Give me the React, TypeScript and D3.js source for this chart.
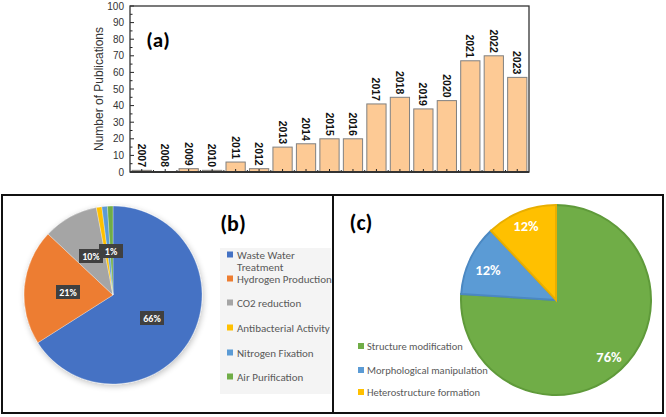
import React from "react";
import * as d3 from "d3";

const years = ["2007","2008","2009","2010","2011","2012","2013","2014","2015","2016","2017","2018","2019","2020","2021","2022","2023"];
const publications = [1, 0, 2, 1, 6, 2, 15, 17, 20, 20, 41, 45, 38, 43, 67, 70, 57];
const yTicks = [0, 10, 20, 30, 40, 50, 60, 70, 80, 90, 100];

const appLabels = ["Waste Water Treatment", "Hydrogen Production", "CO2 reduction", "Antibacterial Activity", "Nitrogen Fixation", "Air Purification"];
const appValues = [66, 21, 10, 1, 1, 1];
const appColors = ["#4472c4", "#ed7d31", "#a5a5a5", "#ffc000", "#5b9bd5", "#70ad47"];
const appShown = ["66%", "21%", "10%", "", "1%", ""];

const strLabels = ["Structure modification", "Morphological manipulation", "Heterostructure formation"];
const strValues = [76, 12, 12];
const strColors = ["#70ad47", "#5b9bd5", "#ffc000"];
const strStroke = ["#5f9a3a", "#4b88c2", "#e8ae00"];

export default function App() {
  const W = 666, H = 417;
  // bar chart
  const left = 130, right = 529, top = 6, bottom = 172;
  const x = d3.scaleBand<string>().domain(years).range([left, right]).paddingInner(0.18).paddingOuter(0.09);
  const y = d3.scaleLinear().domain([0, 100]).range([bottom, top]);
  const minor = d3.range(5, 100, 10);

  // pie b
  const pieB = d3.pie<number>().sort(null).value(d => d)(appValues);
  const rB = 89;
  const arcB = d3.arc<d3.PieArcDatum<number>>().innerRadius(0).outerRadius(rB);
  const cxB = 113, cyB = 295;
  const labelPosB: [number, number][] = [[152, 318], [68, 292], [91, 256], [0, 0], [111, 251], [0, 0]];

  // pie c
  const pieC = d3.pie<number>().sort(null).value(d => d)(strValues);
  const rC = 95;
  const arcC = d3.arc<d3.PieArcDatum<number>>().innerRadius(0).outerRadius(rC);
  const cxC = 556, cyC = 300;
  const labelPosC: [number, number][] = [[609, 357], [488, 270], [526, 226]];

  const font = "Arial, 'Liberation Sans', sans-serif";
  const fontC = "Calibri, Carlito, 'Open Sans', 'Noto Sans', sans-serif";

  return (
    <svg width={W} height={H} style={{ position: "absolute", left: 0, top: 0, background: "#fff" }} viewBox={`0 0 ${W} ${H}`}>
      <defs>
        <filter id="sh" x="-20%" y="-20%" width="140%" height="140%">
          <feGaussianBlur in="SourceAlpha" stdDeviation="3" />
          <feOffset dx="1" dy="2" result="b" />
          <feComponentTransfer><feFuncA type="linear" slope="0.25" /></feComponentTransfer>
          <feMerge><feMergeNode /><feMergeNode in="SourceGraphic" /></feMerge>
        </filter>
      </defs>
      <rect x={0} y={0} width={W} height={H} fill="#fff" />
      {/* Bar chart */}
      {years.map((yr, i) => {
        const bx = x(yr)!;
        const v = publications[i];
        return (
          <g key={yr}>
            {v > 0 && (
              <rect x={bx} y={y(v)} width={x.bandwidth()} height={bottom - y(v)} fill="#fdca95" stroke="#808080" strokeWidth={1} />
            )}
            <text transform={`translate(${bx + x.bandwidth() / 2 - 4},${Math.min(y(v), bottom - 2) - 3}) rotate(90)`} textAnchor="end" fontFamily={font} fontWeight="bold" fontSize={10.5} fill="#111">{yr}</text>
          </g>
        );
      })}
      {/* ticks */}
      {yTicks.map(t => (
        <g key={t}>
          <line x1={left} x2={left + 4} y1={y(t)} y2={y(t)} stroke="#222" strokeWidth={1} />
          <text x={left - 6} y={y(t) + 3.5} textAnchor="end" fontFamily={font} fontSize={10} fill="#333">{t}</text>
        </g>
      ))}
      {minor.map(t => (
        <line key={"m" + t} x1={left} x2={left + 2.5} y1={y(t)} y2={y(t)} stroke="#222" strokeWidth={1} />
      ))}
      {years.map(yr => (
        <line key={"xt" + yr} x1={x(yr)! + x.bandwidth() / 2} x2={x(yr)! + x.bandwidth() / 2} y1={bottom} y2={bottom - 3} stroke="#222" strokeWidth={1} />
      ))}
      {years.slice(1).map(yr => (
        <line key={"xb" + yr} x1={x(yr)! - x.step() * 0.09} x2={x(yr)! - x.step() * 0.09} y1={bottom} y2={bottom - 2} stroke="#222" strokeWidth={1} />
      ))}
      <rect x={left} y={top} width={right - left} height={bottom - top} fill="none" stroke="#333" strokeWidth={1.3} />
      <line x1={left} x2={right} y1={bottom} y2={bottom} stroke="#333" strokeWidth={1.8} />
      <text transform={`translate(${103},${(top + bottom) / 2}) rotate(-90)`} textAnchor="middle" fontFamily={font} fontSize={12} fill="#333">Number of Publications</text>
      <text x={158} y={47} textAnchor="middle" fontFamily={fontC} fontWeight="bold" fontSize={21} fill="#000">(a)</text>

      {/* Panel borders */}
      <rect x={2} y={195} width={661} height={218} fill="none" stroke="#111" strokeWidth={2} />
      <line x1={333} x2={333} y1={195} y2={413} stroke="#111" strokeWidth={2} />

      {/* Pie b */}
      <g transform={`translate(${cxB},${cyB})`} filter="url(#sh)">
        {pieB.map((d, i) => (
          <path key={i} d={arcB(d)!} fill={appColors[i]} stroke="#fff" strokeWidth={0.3} />
        ))}
      </g>
      {appShown.map((s, i) => s ? (
        <g key={"lb" + i}>
          <rect x={labelPosB[i][0] - 12} y={labelPosB[i][1] - 7} width={24} height={14} fill="#404040" />
          <text x={labelPosB[i][0]} y={labelPosB[i][1] + 3.5} textAnchor="middle" fontFamily={fontC} fontWeight="bold" fontSize={10} fill="#fff">{s}</text>
        </g>
      ) : null)}
      <text x={233} y={231} textAnchor="middle" fontFamily={fontC} fontWeight="bold" fontSize={22} fill="#000">(b)</text>
      <rect x={220} y={248} width={111} height={146} fill="#f4f4f4" />
      {appLabels.map((l, i) => {
        const ys = [255, 279, 303, 328, 353, 377];
        const lines = i === 0 ? ["Waste Water", "Treatment"] : [l];
        return (
          <g key={"lg" + i}>
            <rect x={227} y={ys[i] - 3.5} width={6} height={6} fill={appColors[i]} />
            {lines.map((t, j) => (
              <text key={j} x={237} y={ys[i] + 3.5 + j * 12.5} fontFamily={fontC} fontSize={11} fill="#595959">{t}</text>
            ))}
          </g>
        );
      })}

      {/* Pie c */}
      <g transform={`translate(${cxC},${cyC})`}>
        {pieC.map((d, i) => (
          <path key={i} d={arcC(d)!} fill={strColors[i]} stroke={strStroke[i]} strokeWidth={2} />
        ))}
      </g>
      {strValues.map((v, i) => (
        <text key={"lc" + i} x={labelPosC[i][0]} y={labelPosC[i][1] + 5} textAnchor="middle" fontFamily={fontC} fontWeight="bold" fontSize={14.5} fill="#fff">{v + "%"}</text>
      ))}
      <text x={361} y={230} textAnchor="middle" fontFamily={fontC} fontWeight="bold" fontSize={22} fill="#000">(c)</text>
      {strLabels.map((l, i) => {
        const ys = [346, 370, 392];
        return (
          <g key={"lgc" + i}>
            <rect x={358} y={ys[i] - 3} width={6} height={6} fill={strColors[i]} />
            <text x={367} y={ys[i] + 3.5} fontFamily={fontC} fontSize={10.5} fill="#595959">{l}</text>
          </g>
        );
      })}
    </svg>
  );
}
